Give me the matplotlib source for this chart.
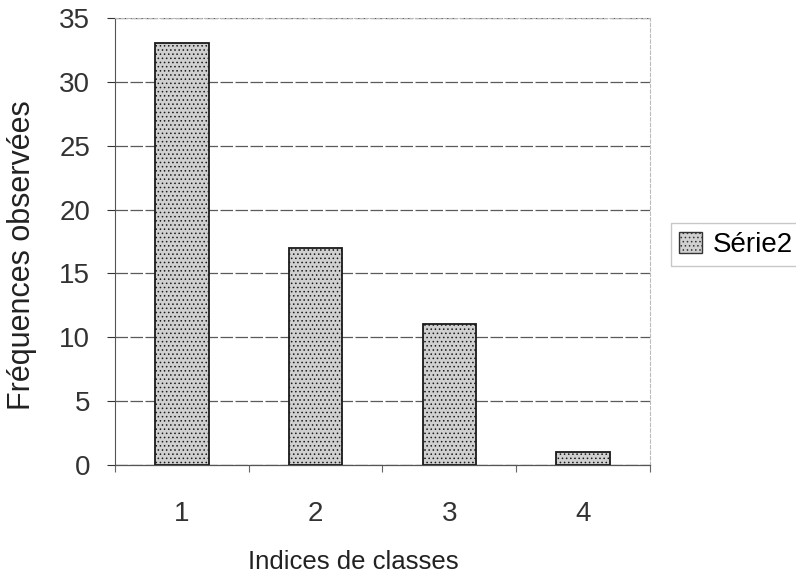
import matplotlib
matplotlib.use("Agg")
import matplotlib.pyplot as plt
from matplotlib.patches import Patch
import numpy as np

categories = ["1", "2", "3", "4"]
values = [33, 17, 11, 1]
series_name = "Série2"

plt.rcParams['font.family'] = ['Liberation Sans', 'DejaVu Sans']
plt.rcParams['hatch.linewidth'] = 0.6
plt.rcParams['hatch.color'] = "#a0a0a0"

fig = plt.figure(figsize=(7.96, 5.79), dpi=100)
ax = fig.add_axes([0.1445, 0.197, 0.672, 0.772])

x = np.arange(len(categories))
ax.bar(x, values, width=0.4, color="#d0d0d0", edgecolor="#1a1a1a", linewidth=1.3,
       hatch="....", zorder=3)

ax.set_xlim(-0.5, len(categories) - 0.5)
ax.set_ylim(0, 35)
ax.set_yticks(range(0, 36, 5))
ax.set_xticks(x)
ax.set_xticklabels(categories)
ax.set_xticks(np.arange(-0.5, len(categories), 1.0), minor=True)

ax.yaxis.grid(True, color="#5a5a5a", linewidth=0.9, linestyle=(0, (10, 2)), zorder=0)
ax.tick_params(axis="y", labelsize=20, colors="#333333", length=6, width=0.8, pad=12)
ax.tick_params(axis="x", which="major", labelsize=20, colors="#333333", length=0, pad=26)
ax.tick_params(axis="x", which="minor", length=5, width=0.8, color="#666666")

for side in ("top", "right"):
    ax.spines[side].set_color("#bbbbbb")
    ax.spines[side].set_linestyle((0, (3, 2)))
    ax.spines[side].set_linewidth(0.8)
ax.spines["left"].set_color("#555555")
ax.spines["left"].set_linewidth(0.8)
ax.spines["bottom"].set_color("#555555")
ax.spines["bottom"].set_linewidth(0.9)

ax.set_ylabel("Fréquences observées", fontsize=22, color="#222222")
ax.yaxis.set_label_coords(-0.146, 0.47)
ax.set_xlabel("Indices de classes", fontsize=18.5, color="#222222")
ax.xaxis.set_label_coords(0.445, -0.19)

handle = Patch(facecolor="#d0d0d0", edgecolor="#333333", linewidth=1.0, hatch="....")
fig.legend([handle], [series_name], loc="center left",
           bbox_to_anchor=(0.843, 0.577), fontsize=20, frameon=True,
           fancybox=False, edgecolor="#bbbbbb", handlelength=0.8,
           handleheight=0.8, handletextpad=0.4, borderpad=0.3,
           borderaxespad=0)

fig.savefig("out.png", dpi=100, facecolor="white")
